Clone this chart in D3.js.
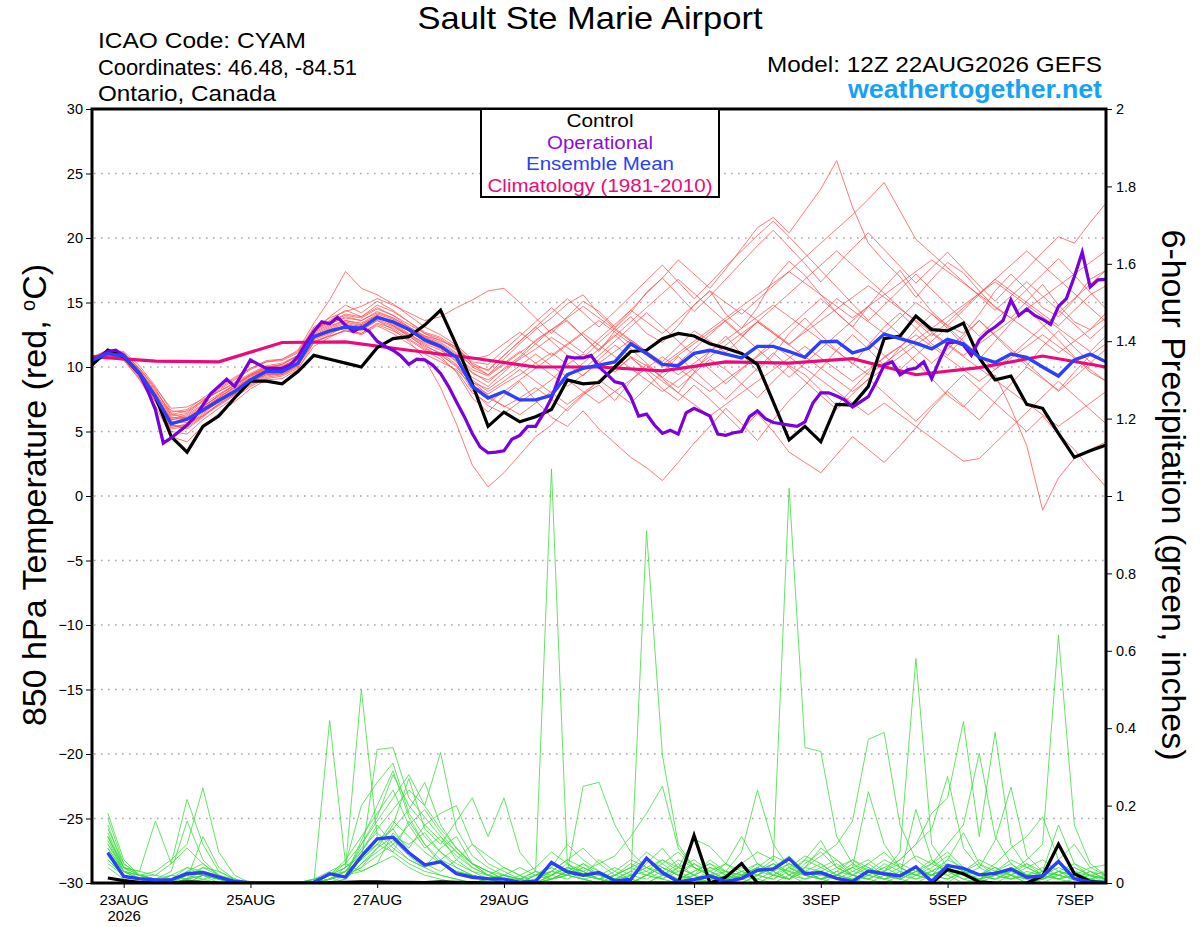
<!DOCTYPE html>
<html>
<head>
<meta charset="utf-8">
<script src="https://cdn.jsdelivr.net/npm/d3@7"></script>
<style>
  body { margin: 0; background: #fff; }
  text { font-family: "Liberation Sans", Arial, Helvetica, sans-serif; }
</style>
</head>
<body>
<svg id="chart" width="1200" height="927"></svg>
<script>
(function () {
  'use strict';

  // ---- time axis (forecast hours from 12Z 22AUG2026) ----
  var runStart = new Date(Date.UTC(2026, 7, 22, 12));
  var hours6 = d3.range(0, 385, 6);      // temperature, 6-hourly
  var hours3 = d3.range(0, 385, 3);      // operational, 3-hourly
  var hoursDaily = d3.range(0, 385, 24); // climatology, daily
  var hoursPrecip = d3.range(6, 385, 6); // 6-hour precip totals

  var tickDates = ['2026-08-23', '2026-08-25', '2026-08-27', '2026-08-29',
                   '2026-09-01', '2026-09-03', '2026-09-05', '2026-09-07'];
  var tempTicks = [-30, -25, -20, -15, -10, -5, 0, 5, 10, 15, 20, 25, 30];
  var precipTicks = [0, 0.2, 0.4, 0.6, 0.8, 1, 1.2, 1.4, 1.6, 1.8, 2];

  // ---- 850 hPa temperature (C) ----
  var control = [10.15, 11.3, 10.8, 9.5, 7.7, 4.6, 3.4, 5.4, 6.2, 7.6, 8.9, 8.9, 8.7,
    9.65, 10.9, 10.6, 10.3, 10.0, 11.5, 12.2, 12.35, 13.25, 14.4, 11.7, 8.7, 5.4,
    6.5, 5.75, 6.15, 6.7, 9.0, 8.7, 8.8, 10.0, 11.2, 11.3, 12.2, 12.6, 12.4, 11.8,
    11.45, 11.05, 10.2, 7.3, 4.35, 5.4, 4.2, 7.1, 7.05, 8.5, 12.2, 12.4, 13.95,
    12.9, 12.8, 13.4, 10.7, 9.0, 9.3, 7.1, 6.8, 4.85, 3.0, 3.5, 3.95];

  var operational = [10.5, 10.85, 11.2, 11.3, 10.9, 10.15, 9.5, 8.2, 6.7, 4.1, 4.5,
    5.0, 5.5, 6.15, 7.05, 7.95, 8.5, 9.05, 8.5, 9.5, 10.55, 10.2, 9.9, 9.9, 9.9,
    10.15, 10.8, 11.85, 12.75, 13.5, 13.35, 13.85, 13.25, 12.75, 13.1, 12.75, 12.0,
    11.6, 11.3, 10.85, 10.2, 10.6, 10.55, 10.15, 9.5, 8.5, 7.3, 6.15, 4.85, 3.8,
    3.35, 3.4, 3.5, 4.4, 4.7, 5.4, 5.4, 6.4, 7.6, 9.25, 10.8, 10.7, 10.7, 10.9, 10.0,
    9.45, 8.85, 8.7, 7.7, 6.2, 6.35, 5.5, 4.85, 5.1, 4.8, 6.45, 6.8, 6.5, 6.2, 4.8,
    4.7, 4.9, 5.0, 6.15, 6.6, 6.0, 5.7, 5.6, 5.5, 5.4, 5.75, 7.2, 8.0, 8.0, 7.75,
    7.45, 6.9, 7.3, 7.7, 8.85, 10.15, 10.4, 9.4, 9.8, 9.9, 10.4, 9.1, 10.55, 11.85,
    11.95, 11.7, 10.9, 12.1, 12.7, 13.1, 13.6, 15.2, 14.0, 14.5, 14.0, 13.7, 13.3,
    14.7, 15.3, 17.0, 18.9, 16.2, 16.75, 16.8];

  var ensMean = [10.55, 11.05, 10.85, 9.5, 7.7, 5.6, 5.95, 6.65, 7.4, 8.1, 9.0, 9.65,
    9.65, 10.3, 12.35, 12.8, 13.1, 13.0, 13.85, 13.5, 12.9, 12.1, 11.6, 10.75, 8.5,
    7.6, 8.1, 7.45, 7.45, 7.8, 9.4, 9.9, 10.15, 10.4, 11.8, 11.05, 10.2, 10.1, 11.05,
    11.3, 11.0, 10.7, 11.6, 11.6, 11.2, 10.75, 11.95, 12.0, 11.1, 11.45, 12.55, 12.2,
    11.85, 11.4, 12.15, 11.8, 10.75, 10.35, 11.0, 10.75, 10.0, 9.3, 10.55, 11.0, 10.4];

  var climatology = [10.8, 10.45, 10.4, 11.9, 11.95, 11.3, 10.7, 10.0, 10.0, 9.7,
    10.4, 10.3, 10.65, 9.4, 9.95, 10.85, 10.0];

  var memberTemps = [
    [10.6,11.2,11.0,9.8,8.2,6.4,6.0,6.9,7.8,8.6,9.4,9.9,10.2,10.9, 12.8,13.6,14.4,13.9,14.6,14.0,13.1,12.3,11.8, 11.0,9.6,8.8,9.9,10.8,12.1,12.9,13.6,12.4,11.2,12.8,13.9,12.6, 11.9,13.2,14.8,15.9,14.1,13.0,14.6,16.8,18.2,17.1,15.6,14.2,13.1,14.7,16.2, 17.5,15.8,14.3,13.2,12.6,14.1,15.9,17.2,16.0,14.6,13.9,15.2,16.8,17.5],
    [10.4,10.9,10.7,9.2,7.4,5.2,5.4,6.3,7.1,7.9,8.8,9.5,9.4,10.0, 12.6,13.9,14.8,14.2,15.1,14.4,13.5,12.6,12.0, 11.6,10.2,9.4,10.6,11.8,12.9,13.8,14.9,15.6,14.1,13.0,14.2,15.8, 16.9,18.3,17.2,16.1,17.6,19.2,20.8,21.6,20.4,22.1,23.8,26.0,22.4,19.6,18.2, 17.0,15.4,16.8,18.1,17.3,15.9,14.6,13.8,15.1,16.4,14.8,13.5,12.9,14.2],
    [10.7,11.3,10.8,9.4,7.6,5.0,4.8,5.9,6.8,7.6,8.5,9.1,9.3,9.9, 11.6,12.3,12.9,12.6,13.4,13.0,12.2,11.4,10.9, 10.1,8.2,7.0,6.4,7.3,8.1,9.0,10.2,11.0,10.4,9.6,10.8,10.1, 9.2,8.4,9.5,10.6,9.8,8.7,7.6,8.9,10.1,9.4,8.2,7.0,8.3,9.6,10.8, 11.6,10.4,9.1,7.8,6.9,8.2,9.4,6.8,3.9,-1.1,1.4,2.9,3.6,4.2],
    [10.5,11.0,10.6,9.0,7.0,4.6,4.2,5.4,6.4,7.3,8.3,9.0,9.1,9.8, 11.9,12.5,13.2,12.8,13.6,12.9,12.0,10.6,8.4, 5.6,2.4,0.7,1.8,3.2,4.6,5.5,6.8,7.9,8.6,7.4,8.9,10.2, 9.1,8.0,9.6,11.2,12.4,11.0,9.7,10.9,12.6,13.8,12.5,11.3,10.2,11.7,13.1, 14.2,13.0,11.8,10.9,12.3,13.6,12.4,11.2,10.1,11.6,12.8,11.5,10.4,9.8],
    [10.6,11.1,11.1,9.9,8.4,6.8,6.9,7.5,8.1,8.7,9.4,10.0,10.1,10.6, 12.2,12.7,13.0,13.3,14.0,13.2,12.4,11.5,10.8, 9.6,7.6,6.5,7.8,8.9,7.4,6.1,5.4,6.6,5.2,4.1,3.0,2.2, 1.2,2.6,4.1,5.4,6.8,5.6,4.3,5.9,7.4,8.6,9.9,11.3,12.5,11.4,10.1, 11.5,12.9,14.1,13.0,11.7,10.6,12.0,13.4,14.6,13.3,12.1,10.8,9.6,8.9],
    [10.4,10.8,10.5,9.1,7.3,5.3,5.6,6.2,7.0,7.8,8.6,9.2,9.4,10.1, 12.0,12.4,12.8,12.5,13.2,12.6,11.8,11.0,10.4, 9.8,8.6,7.9,8.7,9.4,10.3,11.1,10.2,9.3,10.6,11.7,10.8,9.6, 8.3,7.4,8.6,7.5,6.3,5.1,6.4,5.0,3.4,2.6,1.8,3.2,4.6,3.6,2.6, 3.9,5.3,6.8,8.1,7.0,5.9,7.3,8.7,10.0,9.1,8.2,9.6,10.9,11.8],
    [10.8,11.3,11.2,10.1,8.5,6.6,6.5,7.4,8.3,9.1,9.9,10.5,10.6,11.2, 13.1,13.8,14.3,14.7,15.3,14.8,14.2,13.6,13.9, 14.6,15.2,15.9,16.1,15.0,13.8,12.6,13.9,15.1,14.3,13.1,14.4,15.7, 16.9,15.6,14.3,15.5,16.8,18.1,19.4,20.6,19.3,18.0,16.6,17.9,19.2,20.4,19.1, 17.8,16.5,17.7,18.9,17.6,16.3,15.1,16.4,17.6,18.9,20.1,19.6,21.2,22.7],
    [10.5,11.0,10.9,9.6,7.9,5.9,6.2,7.0,7.7,8.4,9.2,9.8,9.9,10.5, 12.5,13.1,13.6,13.4,14.1,13.7,13.0,12.3,11.7, 10.8,9.5,9.0,9.8,10.6,11.4,12.3,11.5,10.7,11.9,13.0,12.1,11.2, 10.4,11.6,12.8,12.0,11.1,12.3,13.5,12.6,11.7,12.9,14.1,15.3,14.4,13.5,12.6, 13.8,15.0,14.1,13.2,14.4,15.6,16.8,15.9,15.0,14.1,13.2,14.4,15.6,16.3],
    [10.6,11.2,10.7,9.3,7.5,5.5,5.2,6.1,7.2,8.0,8.9,9.4,9.6,10.2, 12.1,12.6,13.3,13.0,13.8,13.4,12.6,11.8,11.3, 10.5,8.9,7.8,6.9,7.6,8.4,7.5,6.6,7.8,9.0,8.1,7.2,8.4, 9.6,10.8,9.7,8.6,7.5,8.7,9.9,11.1,10.0,8.9,7.8,6.7,7.9,9.1,8.0, 6.9,5.8,7.0,8.2,9.4,8.3,7.2,6.1,5.0,6.2,4.8,3.6,2.1,0.7],
    [10.7,11.1,10.9,9.7,8.0,6.1,6.0,6.8,7.6,8.5,9.3,9.9,10.0,10.7, 12.7,13.3,13.9,13.6,14.3,13.8,13.1,12.4,12.1, 11.4,10.3,9.7,10.9,12.0,13.1,14.2,15.3,14.2,13.1,14.3,15.5,16.7, 17.9,16.6,15.3,16.5,17.8,19.0,20.2,21.3,20.1,18.8,17.5,16.2,14.9,13.6,14.8, 16.0,17.2,16.0,14.8,13.6,12.4,13.6,14.8,16.0,17.2,18.4,17.1,15.8,14.5],
    [10.5,10.9,10.6,9.3,7.6,5.4,5.5,6.4,7.3,8.1,8.9,9.6,9.7,10.4, 12.4,12.9,13.4,13.1,13.9,13.3,12.5,11.7,11.0, 10.0,8.8,8.3,9.2,10.1,11.0,10.1,9.2,10.3,11.4,12.5,11.4,10.3, 9.2,10.3,11.4,12.5,13.6,12.5,11.4,10.3,9.2,10.3,11.4,12.5,13.6,14.7,13.6, 12.5,11.4,10.3,11.4,12.5,13.6,12.5,11.4,10.3,9.2,8.1,9.2,10.3,11.4],
    [10.6,11.2,11.0,9.5,7.7,5.7,5.9,6.7,7.5,8.3,9.1,9.7,9.8,10.3, 12.3,12.8,13.2,13.0,13.7,13.2,12.5,11.9,11.5, 10.6,9.2,8.5,9.6,10.7,11.8,12.9,12.0,11.1,12.2,13.3,14.4,13.5, 12.6,13.7,14.8,15.9,15.0,14.1,15.2,16.3,17.4,18.5,19.6,20.7,21.8,23.0,24.3, 22.1,19.9,18.8,17.7,16.6,15.5,14.4,15.5,16.6,15.5,14.4,13.3,12.2,13.3],
    [10.4,11.0,10.8,9.4,7.8,6.0,6.3,7.1,7.9,8.6,9.4,10.0,10.2,10.8, 12.9,13.5,14.0,13.8,14.5,14.0,13.3,12.6,12.2, 11.3,10.0,9.4,10.3,11.2,10.3,9.4,8.5,9.4,10.3,11.2,12.1,11.2, 10.3,9.4,10.3,11.2,12.1,13.0,13.9,14.8,13.9,13.0,12.1,11.2,10.3,9.4,10.3, 11.2,12.1,13.0,13.9,14.8,15.7,16.6,15.7,14.8,13.9,13.0,12.1,11.2,12.4],
    [10.7,11.3,11.1,9.9,8.3,6.2,6.4,7.3,8.2,9.0,9.8,10.4,10.6,11.3, 13.4,15.2,17.4,16.1,15.6,14.9,14.0,13.1,12.5, 11.7,10.6,10.9,11.8,12.7,11.8,10.9,11.8,12.7,13.6,12.7,11.8,10.9, 10.0,10.9,11.8,12.7,13.6,14.5,13.6,12.7,11.8,12.7,13.6,14.5,15.4,16.3,15.4, 14.5,13.6,12.7,11.8,10.9,11.8,12.7,13.6,14.5,15.4,16.3,17.2,18.1,19.0],
    [10.5,11.0,10.8,9.5,7.6,5.8,5.7,6.5,7.3,8.0,8.8,9.4,9.5,10.2, 12.2,12.7,13.1,12.9,13.6,13.1,12.4,11.6,11.1, 10.2,8.6,7.6,7.0,6.3,7.2,8.1,9.0,8.1,7.2,8.1,9.0,9.9, 10.8,9.9,9.0,8.1,9.0,9.9,10.8,11.7,10.8,9.9,9.0,8.1,7.2,6.3,7.2, 6.3,5.4,4.5,3.6,2.7,2.9,4.1,5.3,6.5,7.7,8.9,7.8,6.7,5.6],
    [10.6,11.1,10.9,9.6,7.9,6.3,6.6,7.4,8.1,8.8,9.5,10.1,10.3,10.9, 12.8,13.4,13.8,13.6,14.2,13.8,13.1,12.4,11.9, 11.1,10.1,9.8,10.9,12.0,13.1,12.0,10.9,9.8,10.9,12.0,13.1,14.2, 13.1,12.0,10.9,9.8,8.7,9.8,10.9,12.0,13.1,14.2,15.3,14.2,13.1,12.0,10.9, 9.8,10.9,12.0,13.1,12.0,10.9,9.8,10.9,12.0,13.1,14.2,15.3,16.4,17.5],
    [10.5,11.0,10.7,9.2,7.3,5.5,5.3,6.2,7.1,7.9,8.7,9.3,9.5,10.1, 11.9,12.4,12.8,12.6,13.3,12.8,12.1,11.3,10.6, 9.7,8.0,7.2,8.1,9.0,9.9,10.8,11.7,12.6,11.7,10.8,9.9,9.0, 8.1,9.0,9.9,10.8,11.7,12.6,13.5,12.6,11.7,10.8,9.9,9.0,8.1,9.0,9.9, 10.8,11.7,12.6,11.7,10.8,9.9,9.0,8.1,7.2,6.3,5.4,6.3,7.2,8.1],
    [10.7,11.2,11.0,9.7,8.1,6.5,6.7,7.6,8.4,9.2,9.9,10.4,10.5,11.1, 13.0,13.5,14.1,13.9,14.8,14.3,13.5,12.7,12.3, 11.5,10.4,10.2,11.3,12.4,13.5,14.6,13.5,12.4,11.3,12.4,13.5,14.6, 15.7,16.8,15.7,14.6,13.5,12.4,13.5,14.6,15.7,16.8,17.9,19.0,17.9,16.8,15.7, 14.6,13.5,12.4,13.5,14.6,15.7,16.8,17.9,19.0,17.9,16.8,15.7,14.6,13.5],
    [10.4,10.9,10.7,9.4,7.5,5.6,5.9,6.8,7.6,8.4,9.1,9.7,9.9,10.6, 12.6,13.2,13.6,13.3,14.0,13.5,12.8,12.0,11.4, 10.4,9.0,8.1,8.9,9.8,8.9,8.0,7.1,8.0,8.9,9.8,10.7,9.8, 8.9,8.0,7.1,6.2,7.1,8.0,8.9,9.8,10.7,11.6,10.7,9.8,8.9,9.8,10.7, 11.6,12.5,11.6,10.7,9.8,8.9,9.8,10.7,11.6,12.5,11.6,10.7,9.8,8.9],
    [10.6,11.0,10.8,9.5,7.7,5.9,6.1,6.9,7.8,8.6,9.3,9.8,10.0,10.6, 12.4,13.0,13.5,13.2,13.9,13.5,12.8,12.1,11.6, 10.9,9.8,9.3,10.2,11.1,12.0,12.9,13.8,14.7,13.8,12.9,12.0,11.1, 10.2,11.1,12.0,12.9,13.8,14.7,15.6,16.5,17.4,16.5,15.6,14.7,13.8,14.7,15.6, 16.5,17.4,18.3,17.4,16.5,15.6,14.7,13.8,12.9,12.0,11.1,12.0,12.9,13.8]
  ];

  // ---- 6-hour precipitation (inches), valid 06h .. 384h ----
  var controlPrecip = [0.013,0.006,0.002,0,0,0.003,0.002,0,0,0,0,0,0,0,0.001,0.002,
    0.003,0.003,0.002,0.002,0.001,0.003,0.002,0.001,0,0,0,0,0,0,0,0,0,0,0,0,0,0.123,
    0,0.015,0.05,0,0,0,0,0,0,0,0,0,0,0,0,0.035,0.024,0.003,0,0,0,0.018,0.1,0.024,0.004,0];

  var ensMeanPrecip = [0.078,0.017,0.011,0.008,0.008,0.024,0.027,0.015,0.004,0.001,0,
    0,0,0.002,0.024,0.015,0.069,0.114,0.118,0.078,0.047,0.055,0.024,0.015,0.011,0.01,
    0.002,0.004,0.053,0.029,0.02,0.027,0.006,0.009,0.064,0.027,0.003,0.009,0.018,0.004,
    0.012,0.033,0.036,0.063,0.024,0.027,0.012,0.004,0.031,0.024,0.018,0.042,0.004,0.045,
    0.038,0.021,0.025,0.036,0.015,0.018,0.056,0.011,0.003,0.002];

  var memberPrecip = [
    [.18,.06,.02,.01,0,.03,.05,.02, 0,0,0,0,0,0,.01,.03, .08,.15,.1,.06,.04,.09,.12,.05, .02,0,.01,.03,1.07,.05,.02,.06, .03,.01,0,.02,.05,.02,0,0, .01,.03,.06,.02,0,0,.02,.05, .03,.01,.02,.19,.06,.02,0,.01, .03,.05,.02,0,0,.01,.02,0],
    [.15,.04,.01,0,.02,.01,.04,.02, .01,0,0,0,0,0,.02,.06, .12,.18,.24,.15,.09,.12,.06,.03, .01,0,0,.02,.04,.1,.06,.03, .01,0,.91,.33,.1,.04,.02,.01, 0,.02,.04,.07,.03,.01,0,.02, .05,.08,.04,.02,.01,0,.03,.06, .04,.02,0,.01,.03,.02,.01,0],
    [.1,.03,.02,.01,0,0,.02,.01, 0,0,0,0,0,.01,.03,.05, .2,.26,.31,.18,.12,.08,.04,.02, .01,0,.02,.04,.08,.05,.02,.01, 0,.02,.04,.06,.03,.01,0,.02, .05,.08,.06,1.02,.35,.34,.12,.05, .02,.01,0,.02,.04,.07,.03,.01, 0,.02,.05,.03,.01,0,.01,0],
    [.08,.02,.01,0,.01,.04,.02,0, 0,0,0,0,0,0,.01,.02, .1,.16,.22,.28,.2,.14,.09,.05, .03,.01,0,.01,.03,.06,.09,.05, .02,.04,.08,.05,.02,0,.01,.03, .02,.05,.03,.01,.04,.09,.06,.02, .01,.03,.08,.58,.1,.04,.02,.01, .03,.06,.04,.02,.05,.03,.01,0],
    [.12,.04,.03,.02,.01,.02,.03,.01, 0,0,0,0,0,0,0,.02, .07,.11,.14,.08,.05,.03,.06,.1, .07,.04,.02,0,.02,.04,.03,.01, 0,.01,.05,.09,.04,.02,.06,.03, .01,0,.02,.04,.02,.01,.03,.06, .04,.02,.01,.03,.05,.08,.04,.02, .01,.03,.06,.1,.64,.15,.05,.02],
    [.06,.02,.01,0,0,.01,.02,.01, 0,0,0,0,0,.01,.02,.04, .5,.12,.08,.16,.1,.05,.03,.02, .01,0,0,.02,.05,.03,.01,0, .02,.05,.03,.01,0,.02,.04,.02, .01,.03,.05,.02,.06,.11,.04,.02, .01,0,.02,.04,.02,.01,.03,.02, .04,.02,0,.01,.02,.04,.02,.01],
    [.14,.05,.02,.02,.05,.09,.05,.02, 0,0,0,0,0,0,.42,.05, .03,.05,.13,.09,.15,.11,.07,.04, .02,.01,0,0,.01,.03,.05,.02, .01,0,.02,.04,.02,.01,.03,.05, .03,.01,0,.02,.04,.03,.01,0, .02,.05,.03,.01,.02,.06,.13,.05, .02,.01,.03,.02,.01,.02,.04,.02],
    [.09,.03,.01,0,.02,.04,.03,.01, 0,0,0,0,0,.01,.02,.03, .06,.345,.35,.22,.17,.12,.08,.05, .03,.02,.01,0,.01,.02,.04,.02, .01,.03,.06,.04,.02,.01,0,.02, .04,.02,.01,.03,.06,.04,.02,.01, 0,.02,.04,.07,.05,.03,.01,0, .02,.04,.02,.01,.03,.05,.03,.01],
    [.07,.02,.01,0,0,.02,.04,.03, .01,0,0,0,0,0,.01,.04, .08,.14,.19,.24,.2,.337,.14,.07, .04,.02,.01,.02,.03,.06,.04,.02, .01,.02,.04,.03,.01,0,.02,.03, .02,.04,.07,.05,.03,.01,.02,.04, .06,.03,.01,0,.02,.04,.02,.01, .03,.02,.01,.02,.04,.02,.01,.02],
    [.11,.03,.02,.01,0,0,.01,.02, 0,0,0,0,0,0,0,.01, .05,.09,.12,.1,.13,.08,.05,.03, .02,.04,.02,0,.01,.02,.05,.03, .01,0,.02,.05,.08,.04,.02,.01, .03,.05,.02,.01,.04,.07,.1,.16, .371,.389,.15,.06,.03,.02,.04,.02, .01,.02,.04,.06,.03,.01,0,.01],
    [.05,.02,.01,0,0,0,.02,.01, 0,0,0,0,0,0,.01,.02, .04,.07,.1,.15,.19,.13,.08,.04, .02,.01,0,.01,.03,.02,.01,0, .02,.04,.06,.03,.01,.02,.04,.03, .01,.02,.05,.03,.02,.04,.06,.03, .02,.04,.06,.1,.18,.22,.417,.12, .389,.1,.04,.02,.01,.03,.02,.01],
    [.13,.04,.02,.03,.06,.1,.245,.08, .02,0,0,0,0,0,.01,.03, .09,.13,.09,.06,.04,.02,.01,0, .01,.02,0,0,.02,.04,.03,.01, 0,.02,.03,.06,.04,.02,.01,0, .02,.04,.03,.01,.03,.05,.02,.01, .03,.06,.04,.02,.05,.1,.15,.335, .12,.05,.02,.01,.03,.02,.01,0],
    [.1,.04,.03,.16,.05,.216,.1,.03, .01,0,0,0,0,0,.02,.04, .07,.1,.16,.12,.08,.05,.03,.02, .01,0,.01,.03,.02,.01,.03,.05, .07,.12,.18,.25,.09,.04,.02,.01, 0,.02,.04,.03,.01,.02,.04,.06, .03,.01,.02,.04,.02,.01,.03,.05, .03,.01,.02,.04,.02,.01,.03,.01],
    [.08,.03,.01,0,.01,.03,.02,.01, 0,0,0,0,0,0,.01,.02, .11,.2,.29,.17,.1,.06,.04,.02, .01,.02,.04,.02,.01,.03,.25,.26, .15,.08,.04,.02,.01,.03,.05,.03, .08,.24,.1,.04,.02,.01,.03,.02, .01,.03,.05,.03,.02,.04,.02,.01, .02,.03,.01,0,.02,.04,.02,.01],
    [.04,.01,0,0,0,.01,.02,.01, 0,0,0,0,0,0,.01,.03, .06,.1,.14,.19,.26,.15,.09,.05, .03,.01,0,.02,.04,.02,.01,0, .01,.03,.02,.01,.04,.06,.03,.01, .02,.04,.02,.01,.05,.08,.04,.02, .01,.03,.06,.1,.14,.275,.09,.04, .11,.248,.07,.03,.02,.01,.03,.02],
    [.06,.02,.01,.01,.02,.01,0,0, 0,0,0,0,0,0,.01,.02, .04,.09,.15,.27,.14,.1,.16,.22, .12,.22,.08,.03,.01,.02,.04,.02, .01,0,.02,.04,.02,.05,.03,.01, .02,.03,.05,.02,.01,.03,.05,.02, .04,.02,.01,.03,.06,.03,.01,.02, .04,.02,.01,.03,.02,.01,.02,.03],
    [.12,.04,.02,.01,0,.01,.03,.02, 0,0,0,0,0,0,.02,.05, .1,.17,.28,.2,.15,.18,.2,.1, .05,.03,.01,0,.02,.05,.03,.01, .02,.04,.02,.01,.03,.05,.02,.01, .03,.02,.01,.04,.07,.05,.02,.01, .02,.04,.02,.01,.03,.05,.03,.02, .01,.03,.05,.02,.01,.02,.01,.02],
    [.09,.03,.02,0,0,.02,.01,0, 0,0,0,0,0,0,0,.01, .05,.08,.11,.07,.04,.06,.09,.05, .02,.01,0,.01,.02,.04,.02,.01, .03,.06,.04,.02,.01,.03,.05,.02, .01,.03,.02,.05,.03,.01,.02,.04, .236,.1,.04,.02,.03,.06,.04,.02, .05,.09,.12,.171,.06,.1,.04,.047],
    [.167,.05,.02,.01,.03,.16,.06,.02, 0,0,0,0,0,0,.01,.03, .06,.1,.08,.05,.03,.02,.01,0, .01,0,0,.01,.03,.02,.01,.02, .04,.02,.01,.03,.06,.04,.02,.05, .12,.05,.02,.01,.03,.02,.01,.03, .05,.02,.01,.03,.02,.04,.02,.01, .02,.04,.02,.01,.03,.02,.01,0],
    [.12,.03,.01,0,0,.01,.12,.04, .01,0,0,0,0,0,.01,.02, .03,.05,.07,.04,.02,.01,0,0, .01,.02,.01,0,.01,.03,.02,.01, .02,.01,0,.02,.04,.113,.094,.05, .02,.01,.03,.05,.02,.01,.02,.04, .02,.01,.03,.02,.01,.03,.02,.04, .02,.01,.02,.03,.15,.05,.017,.01]
  ];

  // ---- layout ----
  var svg = d3.select('#chart');
  var plot = { left: 92, right: 1106, top: 109, bottom: 883 };

  var hourToDate = function (h) { return d3.utcHour.offset(runStart, h); };
  var x = d3.scaleUtc()
    .domain([runStart, hourToDate(384)])
    .range([plot.left, plot.right]);
  var yT = d3.scaleLinear().domain([-30, 30]).range([plot.bottom, plot.top]);
  var yP = d3.scaleLinear().domain([0, 2]).range([plot.bottom, plot.top]);

  var clip = svg.append('defs').append('clipPath').attr('id', 'plotclip');
  clip.append('rect')
    .attr('x', plot.left).attr('y', plot.top - 2)
    .attr('width', plot.right - plot.left).attr('height', plot.bottom - plot.top + 2);

  // dotted grid on the temperature ticks
  svg.append('g').selectAll('line')
    .data(tempTicks.filter(function (t) { return t > -30 && t < 30; }))
    .enter().append('line')
    .attr('x1', plot.left + 2).attr('x2', plot.right - 2)
    .attr('y1', function (d) { return yT(d); })
    .attr('y2', function (d) { return yT(d); })
    .style('stroke', '#a8a8a8')
    .style('stroke-width', 1.4)
    .style('stroke-dasharray', '1.6,5.4');

  var layer = svg.append('g').attr('clip-path', 'url(#plotclip)');

  var lineFor = function (hours, yScale) {
    return d3.line()
      .x(function (d, i) { return x(hourToDate(hours[i])); })
      .y(function (d) { return yScale(d); });
  };

  var drawLine = function (values, hours, yScale, color, width) {
    layer.append('path')
      .datum(values)
      .attr('d', lineFor(hours, yScale))
      .style('fill', 'none')
      .style('stroke', color)
      .style('stroke-width', width)
      .style('stroke-linejoin', 'miter');
  };

  memberTemps.forEach(function (m) {
    drawLine(m, hours6, yT, '#ff4c4c', 0.75);
  });
  memberPrecip.forEach(function (m) {
    drawLine(m, hoursPrecip, yP, '#3cdc3c', 0.8);
  });

  drawLine(climatology, hoursDaily, yT, '#ec0a7a', 3.2);
  drawLine(controlPrecip, hoursPrecip, yP, '#000000', 3.2);
  drawLine(control, hours6, yT, '#000000', 3.2);
  drawLine(operational, hours3, yT, '#7a00dc', 3.2);
  drawLine(ensMeanPrecip, hoursPrecip, yP, '#2a40ff', 3.4);
  drawLine(ensMean, hours6, yT, '#2a40ff', 3.4);

  // ---- axes ----
  var styleAxis = function (g) {
    g.select('.domain').remove();
    g.selectAll('.tick line').style('stroke', '#000').style('stroke-width', 1);
    g.selectAll('.tick text')
      .style('font-family', '"Liberation Sans", Arial, sans-serif')
      .style('fill', '#000');
  };

  svg.append('g')
    .attr('transform', 'translate(' + plot.left + ',0)')
    .call(d3.axisLeft(yT).tickValues(tempTicks).tickSize(6).tickPadding(3))
    .call(styleAxis)
    .selectAll('.tick text').style('font-size', '14.5px');

  svg.append('g')
    .attr('transform', 'translate(' + plot.right + ',0)')
    .call(d3.axisRight(yP).tickValues(precipTicks).tickSize(6).tickPadding(4)
      .tickFormat(function (d) { return String(d); }))
    .call(styleAxis)
    .selectAll('.tick text').style('font-size', '14.5px');

  var monthFmt = d3.utcFormat('%-d%b');
  var xAxis = svg.append('g')
    .attr('transform', 'translate(0,' + plot.bottom + ')')
    .call(d3.axisBottom(x)
      .tickValues(tickDates.map(function (s) { return new Date(s + 'T00:00:00Z'); }))
      .tickSize(5).tickPadding(6)
      .tickFormat(function (d) { return monthFmt(d).toUpperCase(); }))
    .call(styleAxis);
  xAxis.selectAll('.tick text').style('font-size', '15px');
  xAxis.select('.tick')
    .append('text')
    .attr('y', 27)
    .attr('dy', '0.71em')
    .attr('text-anchor', 'middle')
    .style('font-size', '15px')
    .style('fill', '#000')
    .text('2026');

  // frame
  svg.append('rect')
    .attr('x', plot.left).attr('y', plot.top)
    .attr('width', plot.right - plot.left).attr('height', plot.bottom - plot.top)
    .style('fill', 'none')
    .style('stroke', '#000')
    .style('stroke-width', 3);

  // ---- legend ----
  var legend = svg.append('g');
  legend.append('rect')
    .attr('x', 481).attr('y', plot.top)
    .attr('width', 238).attr('height', 88)
    .style('fill', '#fff')
    .style('stroke', '#000')
    .style('stroke-width', 2);
  var legendItems = [
    { label: 'Control', color: '#000000', width: 67 },
    { label: 'Operational', color: '#8a0ee0', width: 106 },
    { label: 'Ensemble Mean', color: '#2a40ff', width: 148 },
    { label: 'Climatology (1981-2010)', color: '#ec0a7a', width: 225 }
  ];
  legend.selectAll('text.item')
    .data(legendItems)
    .enter().append('text')
    .attr('class', 'item')
    .attr('x', 600)
    .attr('y', function (d, i) { return 127 + i * 21.7; })
    .attr('text-anchor', 'middle')
    .attr('textLength', function (d) { return d.width; })
    .attr('lengthAdjust', 'spacingAndGlyphs')
    .style('font-size', '18px')
    .style('fill', function (d) { return d.color; })
    .text(function (d) { return d.label; });

  // ---- titles ----
  svg.append('text')
    .attr('x', 590).attr('y', 29)
    .attr('text-anchor', 'middle')
    .attr('textLength', 345)
    .attr('lengthAdjust', 'spacingAndGlyphs')
    .style('font-size', '32px')
    .text('Sault Ste Marie Airport');

  var infoLines = [
    { label: 'ICAO Code: CYAM', width: 208 },
    { label: 'Coordinates: 46.48, -84.51', width: 259 },
    { label: 'Ontario, Canada', width: 178 }
  ];
  svg.selectAll('text.info')
    .data(infoLines)
    .enter().append('text')
    .attr('class', 'info')
    .attr('x', 98)
    .attr('y', function (d, i) { return 48 + i * 26.5; })
    .attr('textLength', function (d) { return d.width; })
    .attr('lengthAdjust', 'spacingAndGlyphs')
    .style('font-size', '22px')
    .text(function (d) { return d.label; });

  svg.append('text')
    .attr('x', 1102).attr('y', 72)
    .attr('text-anchor', 'end')
    .attr('textLength', 335)
    .attr('lengthAdjust', 'spacingAndGlyphs')
    .style('font-size', '22px')
    .text('Model: 12Z 22AUG2026 GEFS');

  svg.append('text')
    .attr('x', 1102).attr('y', 98)
    .attr('text-anchor', 'end')
    .attr('textLength', 254)
    .attr('lengthAdjust', 'spacingAndGlyphs')
    .style('font-size', '25px')
    .style('font-weight', 'bold')
    .style('fill', '#17a2f7')
    .text('weathertogether.net');

  var leftTitle = svg.append('text')
    .attr('transform', 'translate(46,495) rotate(-90)')
    .attr('text-anchor', 'middle')
    .style('font-size', '34px');
  leftTitle.append('tspan').text('850 hPa Temperature (red, ');
  leftTitle.append('tspan').attr('baseline-shift', 'super').style('font-size', '20px').text('o');
  leftTitle.append('tspan').text('C)');

  svg.append('text')
    .attr('transform', 'translate(1162,495) rotate(90)')
    .attr('text-anchor', 'middle')
    .style('font-size', '34px')
    .text('6-hour Precipitation (green, inches)');
})();
</script>
</body>
</html>
